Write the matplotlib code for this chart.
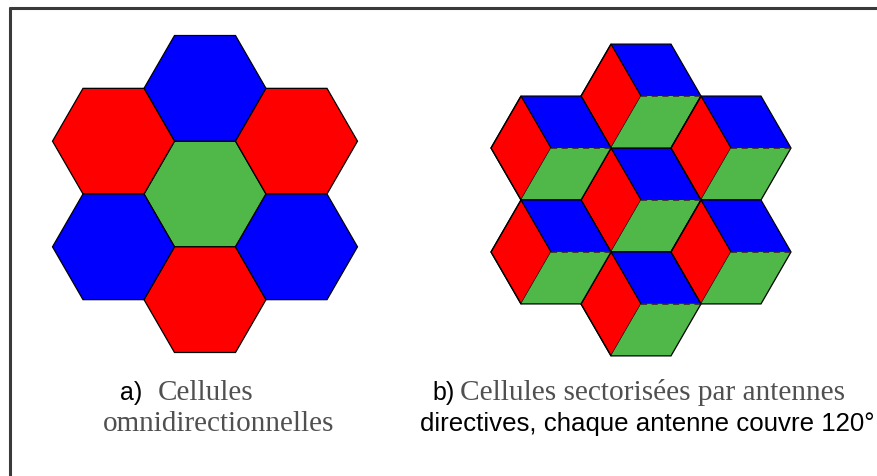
import numpy as np
import matplotlib.pyplot as plt
from matplotlib.patches import Polygon

# --- données : cellules en coordonnées axiales (q, r) ---
cell_q = [0, 0, 0, -1, -1, 1, 1]
cell_r = [0, -1, 1, 0, 1, -1, 0]
omni_colors = ['#50b848', '#0000ff', '#ff0000', '#ff0000', '#0000ff', '#ff0000', '#0000ff']

# secteurs de 120° : couleur et sommet de départ (0 = droite, sens trigo)
sector_colors = ['#0000ff', '#ff0000', '#50b848']
sector_start = [0, 2, 4]

label_a = ["a)", "Cellules", "omnidirectionnelles"]
label_b = ["b)", "Cellules sectorisées par antennes", "directives, chaque antenne couvre 120°"]

# --- géométrie (pixels, y vers le bas) ---
W, H = 877, 476
R_left, C_left = 61, (205, 194)
R_right, C_right = 60, (641, 200)


def hex_center(q, r, R, origin):
    x = origin[0] + 1.5 * R * q
    y = origin[1] + np.sqrt(3) * R * (r + q / 2)
    return x, y


def hex_vertex(cx, cy, R, k):
    a = np.radians(60 * k)
    return cx + R * np.cos(a), cy - R * np.sin(a)


fig = plt.figure(figsize=(W / 100, H / 100), dpi=100)
ax = fig.add_axes([0, 0, 1, 1])
ax.set_xlim(0, W)
ax.set_ylim(H, 0)
ax.axis('off')

# a) cellules omnidirectionnelles
for q, r, col in zip(cell_q, cell_r, omni_colors):
    cx, cy = hex_center(q, r, R_left, C_left)
    pts = [hex_vertex(cx, cy, R_left, k) for k in range(6)]
    ax.add_patch(Polygon(pts, closed=True, facecolor=col, edgecolor='black', lw=0.9))

# b) cellules sectorisées
for q, r in zip(cell_q, cell_r):
    cx, cy = hex_center(q, r, R_right, C_right)
    for col, k0 in zip(sector_colors, sector_start):
        pts = [(cx, cy)] + [hex_vertex(cx, cy, R_right, k0 + i) for i in range(3)]
        ec = 'black' if col == '#ff0000' else 'none'
        ax.add_patch(Polygon(pts, closed=True, facecolor=col, edgecolor=ec, lw=0.9))
    # limite bleu / vert en pointillés
    v0 = hex_vertex(cx, cy, R_right, 0)
    ax.plot([cx, v0[0]], [cy, v0[1]], color='#3a1a1a', lw=1.1, ls=(0, (4, 3)))
    pts = [hex_vertex(cx, cy, R_right, k) for k in range(6)]
    ax.add_patch(Polygon(pts, closed=True, facecolor='none', edgecolor='black', lw=0.9))

# cadre (haut et gauche)
ax.plot([9, W], [7.5, 7.5], color='#3a3a3a', lw=2.2, solid_capstyle='butt')
ax.plot([9.5, 9.5], [7, H], color='#3a3a3a', lw=2.2, solid_capstyle='butt')

# légendes
sans = 'Liberation Sans'
serif = 'Liberation Serif'
ax.text(120, 400, label_a[0], fontfamily=sans, fontsize=18, color='black', va='baseline')
ax.text(158, 400, label_a[1], fontfamily=serif, fontsize=21, color='#505050', va='baseline')
ax.text(103, 431, label_a[2], fontfamily=serif, fontsize=21, color='#505050', va='baseline')

ax.text(432, 400, label_b[0], fontfamily=sans, fontsize=18, color='black', va='baseline')
ax.text(460, 400, label_b[1], fontfamily=serif, fontsize=21.2, color='#505050', va='baseline')
ax.text(420, 431, label_b[2], fontfamily=sans, fontsize=18.6, color='black', va='baseline')

fig.savefig('out.png', dpi=100)
